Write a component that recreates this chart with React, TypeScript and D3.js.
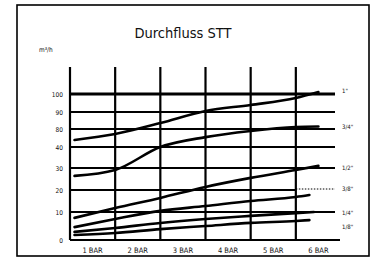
import React from "react";
import * as d3 from "d3";

// pressure categories (bar)
const pressures = [1, 2, 3, 4, 5, 6];
const pressureLabels = ["1 BAR", "2 BAR", "3 BAR", "4 BAR", "5 BAR", "6 BAR"];
// gridlines sit half a step left of each label
const gridPressures = [0.5, 1.5, 2.5, 3.5, 4.5, 5.5];

// flow ticks in m³/h (the original axis is not linear)
const flowTicks = [0, 10, 20, 30, 40, 80, 90, 100];

// sampled pressure positions of every curve
const sampleP = [0.6, 1.5, 2.5, 3.5, 4.5, 5.5];

const sizes = ['1"', '3/4"', '1/2"', '3/8"', '1/4"', '1/8"'];
const endP = [6.0, 6.0, 6.0, 5.8, 5.9, 5.8];
const flow1 = [55.6, 68.9, 83.5, 90.6, 93.9, 97.8, 101.1];
const flow34 = [26.4, 29.1, 40, 62, 75.6, 81.2, 81.5];
const flow12 = [7.9, 11.8, 16.4, 21.4, 25.5, 29.1, 31];
const flow38 = [4.6, 7.5, 10.5, 12.7, 15, 16.8, 17.7];
const flow14 = [2.9, 4.3, 6.1, 7.5, 8.6, 9.6, 10];
const flow18 = [1.8, 2.5, 3.9, 5, 6.1, 6.8, 7.1];
const labelFlow = [101.5, 81, 30, 20.5, 9.5, 4.6];

const series = [flow1, flow34, flow12, flow38, flow14, flow18];

const W = 376;
const H = 262;
const font = "'DejaVu Sans Condensed', 'Liberation Sans Narrow', 'DejaVu Sans', sans-serif";

export default function App() {
  const x = d3.scaleLinear().domain([0.5, 6.5]).range([70, 341]);
  const y = d3
    .scaleLinear()
    .domain(flowTicks)
    .range([240, 212, 190, 168, 147, 129, 112, 94]);

  const line = d3
    .line<[number, number]>()
    .x((d) => x(d[0]))
    .y((d) => y(d[1]))
    .curve(d3.curveMonotoneX);

  const gridRight = 335;

  return (
    <svg
      width={W}
      height={H}
      style={{ position: "absolute", left: 0, top: 0, background: "#fff" }}
      fontFamily={font}
    >
      <rect x={17} y={5} width={352} height={251} fill="#fff" stroke="#000" strokeWidth={1.6} />
      <text x={183} y={38} textAnchor="middle" fontSize={14.5} fill="#111">
        Durchfluss STT
      </text>
      <text x={39} y={52} fontSize={6.5} fill="#111">
        m³/h
      </text>

      {/* horizontal gridlines */}
      {flowTicks.map((t) =>
        t === 20 ? (
          <g key={t}>
            <line x1={x(0.5)} x2={x(5.5)} y1={y(t)} y2={y(t)} stroke="#000" strokeWidth={2.2} />
            <line x1={x(5.5)} x2={gridRight} y1={y(t) - 1} y2={y(t) - 1} stroke="#000" strokeWidth={1} strokeDasharray="1.5,1.5" />
          </g>
        ) : (
          <line
            key={t}
            x1={x(0.5)}
            x2={t === 0 ? 340 : gridRight}
            y1={y(t)}
            y2={y(t)}
            stroke="#000"
            strokeWidth={t === 100 ? 3 : 2.2}
          />
        )
      )}

      {/* vertical gridlines */}
      {gridPressures.map((p) => (
        <line key={p} x1={x(p)} x2={x(p)} y1={67} y2={y(0)} stroke="#000" strokeWidth={2.2} />
      ))}

      {/* y tick labels */}
      {flowTicks.map((t) => (
        <text key={t} x={63} y={y(t) + 2.5} textAnchor="end" fontSize={6.5} fill="#111">
          {t}
        </text>
      ))}

      {/* x labels */}
      {pressures.map((p, i) => (
        <text key={p} x={x(p)} y={253} textAnchor="middle" fontSize={7.5} fill="#111">
          {pressureLabels[i]}
        </text>
      ))}

      {/* flow curves */}
      {series.map((vals, i) => {
        const pts: [number, number][] = vals.map((v, j) => [
          j < sampleP.length ? sampleP[j] : endP[i],
          v,
        ]);
        return (
          <path
            key={sizes[i]}
            d={line(pts) || ""}
            fill="none"
            stroke="#000"
            strokeWidth={2.6}
            strokeLinecap="round"
          />
        );
      })}

      {/* size labels */}
      {sizes.map((s, i) => (
        <text key={s} x={342} y={y(labelFlow[i]) + 2} fontSize={6} fill="#111">
          {s}
        </text>
      ))}
    </svg>
  );
}
